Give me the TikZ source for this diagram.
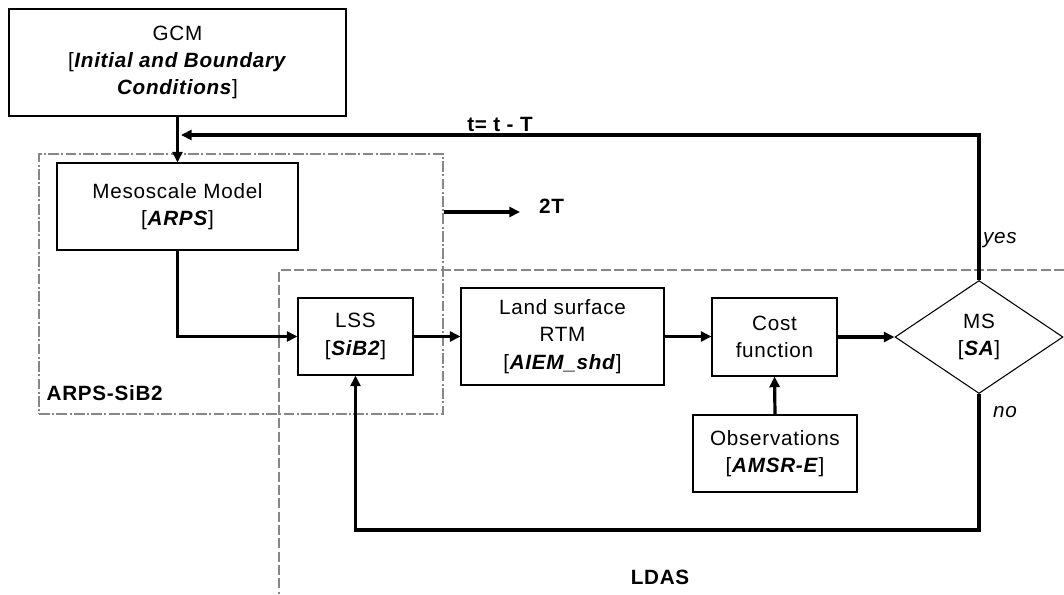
\documentclass[tikz,border=0pt]{standalone}
\usepackage{fontspec}
\setmainfont{Liberation Sans}[LetterSpace=3.5]
\usetikzlibrary{arrows.meta,shapes.geometric}
\definecolor{grpgray}{RGB}{135,135,135}
\newcommand\bbi[1]{\textbf{\textit{#1}}}
\begin{document}
\begin{tikzpicture}[x=0.75pt,y=-0.75pt,
  every node/.style={font=\fontsize{15.5}{20.5}\selectfont},
  box/.style={draw, line width=0.8pt, align=center, inner sep=2pt},
  conn/.style={line width=2.4pt, -{Triangle[length=8pt,width=7.5pt]}},
  grpdashdot/.style={draw=grpgray, line width=2.2pt, dash pattern=on 8pt off 1.8pt on 1.5pt off 1.8pt},
  grpdash/.style={draw=grpgray, line width=2.2pt, dash pattern=on 7.5pt off 2.5pt},
  lbl/.style={font=\bfseries\fontsize{15.5}{20.5}\selectfont},
  ans/.style={font=\itshape\fontsize{15.5}{20.5}\selectfont},
]
\useasboundingbox (0,0) rectangle (1064,594);

% groups
\node[grpdashdot, minimum width=303pt, minimum height=195pt, inner sep=0pt] (arps) at (241,284) {};
\draw[grpdash] (1064,270) -- (279,270) -- (279,594);

% boxes
\node[box, minimum width=252.75pt, minimum height=80.25pt] (gcm) at (177.5,62.5)
  {GCM\\{}[\bbi{Initial and Boundary}\\\bbi{Conditions}]};
\node[box, minimum width=180.75pt, minimum height=65.25pt] (meso) at (177.5,206.5)
  {Mesoscale Model\\{}[\bbi{ARPS}]};
\node[box, minimum width=86.25pt, minimum height=57.75pt] (lss) at (355.5,336.5)
  {LSS\\{}[\bbi{SiB2}]};
\node[box, minimum width=152.25pt, minimum height=72.75pt] (land) at (562.5,336.5)
  {Land surface\\RTM\\{}[\bbi{AIEM\_shd}]};
\node[box, minimum width=93.75pt, minimum height=58.5pt] (cost) at (774.5,337)
  {Cost\\function};
\node[box, minimum width=123pt, minimum height=57.75pt] (obs) at (775,453.5)
  {Observations\\{}[\bbi{AMSR-E}]};
\node[box, diamond, inner sep=0pt, minimum width=126pt, minimum height=84.75pt] (ms) at (979,337)
  {MS\\{}[\bbi{SA}]};

% labels
\node[lbl] (tlabel) at (500,124) {t= t - T};
\node[lbl] (twoT) at (551.5,206) {2T};
\node[lbl, anchor=west] (arpslbl) at (42,393) {ARPS-SiB2};
\node[lbl] (ldaslbl) at (660,577) {LDAS};
\node[ans] (yes) at (1000,240) {yes};
\node[ans] (no) at (1005,412) {no};

% connectors
\coordinate (fbEnd) at (181,135);
\coordinate (botY) at (0,530);
\coordinate (twoTend) at (520,212);
\draw[conn] (gcm.south) -- (meso.north);
\draw[conn] (ms.north) |- (fbEnd);
\draw[conn] (meso.south) |- (lss.west);
\draw[conn] (lss.east) -- (land.west);
\draw[conn] (land.east) -- (land.east -| cost.west);
\draw[conn] (cost.east) -- (ms.west);
\draw[conn] (obs.north) -- (cost.south);
\draw[conn] (ms.south) |- (lss.south |- botY) -- (lss.south);
\draw[conn] (arps.east |- twoTend) -- (twoTend);
\end{tikzpicture}
\end{document}
